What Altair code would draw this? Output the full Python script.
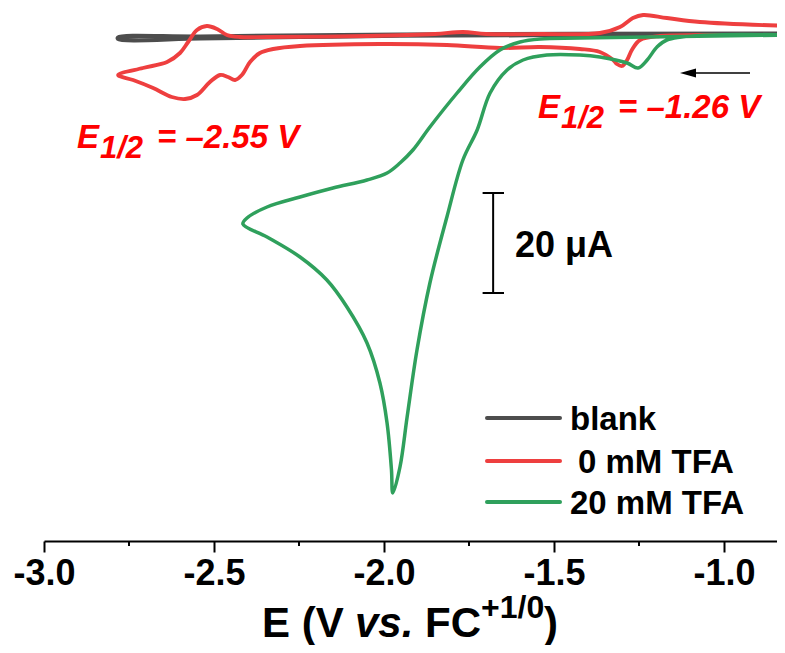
import altair as alt
import pandas as pd

# ---------------- data ----------------
series_names = ["blank", "0 mM TFA", "20 mM TFA"]
series_colors = ["#4D4D4D", "#EE3F3F", "#2FA05C"]

blank_E = [-0.80, -1.365, -1.953, -2.247, -2.541, -2.782, -2.782, -2.541, -1.953, -0.80]
blank_I = [0.7, 0.6, 0.45, 0.2, -0.1, -0.2, 0.1, 0.3, 0.7, 0.9]

red_E = [-0.80, -1.071, -1.188, -1.247, -1.271, -1.285, -1.300, -1.315, -1.326, -1.365,
         -1.424, -1.541, -1.659, -1.815, -2.012, -2.247, -2.326, -2.365, -2.394, -2.418,
         -2.438, -2.459, -2.482, -2.512, -2.550, -2.585, -2.624, -2.679, -2.738, -2.782,
         -2.709, -2.638, -2.600, -2.576, -2.550, -2.521, -2.491, -2.462, -2.424, -2.344,
         -2.050, -1.850, -1.768, -1.700, -1.541, -1.365, -1.306, -1.268, -1.238, -1.168,
         -1.071, -0.80]
red_I = [0.6, 0.6, 0.4, -0.4, -2.4, -4.4, -5.6, -5.2, -4.4, -2.8,
         -2.2, -1.8, -2.0, -1.4, -1.2, -1.6, -2.2, -3.0, -4.8, -7.4,
         -8.4, -7.8, -7.4, -8.8, -11.4, -12.2, -11.8, -10.0, -8.4, -7.4,
         -6.0, -4.8, -3.0, -0.8, 1.6, 2.4, 1.8, 0.6, 0.2, 0.2,
         0.4, 0.8, 1.2, 0.8, 0.8, 1.0, 2.2, 4.0, 4.6, 4.0,
         3.2, 2.4]

green_E = [-0.80, -1.071, -1.168, -1.197, -1.226, -1.253, -1.285, -1.365, -1.424, -1.521,
           -1.591, -1.638, -1.688, -1.726, -1.768, -1.815, -1.865, -1.903, -1.932, -1.953,
           -1.974, -1.978, -1.991, -2.012, -2.050, -2.109, -2.168, -2.247, -2.344, -2.415,
           -2.403, -2.344, -2.247, -2.150, -2.050, -1.991, -1.953, -1.915, -1.865, -1.785,
           -1.718, -1.659, -1.600, -1.541, -1.424, -0.80]
green_I = [0.6, 0.5, -0.4, -1.8, -4.4, -6.0, -5.0, -3.8, -3.4, -3.4,
           -4.4, -6.4, -11.0, -18.4, -24.4, -35.8, -49.0, -62.4, -75.8, -85.8,
           -91.0, -86.4, -77.0, -69.0, -61.0, -53.8, -48.4, -43.8, -39.8, -37.2,
           -36.0, -33.8, -31.8, -30.0, -28.4, -27.0, -25.0, -22.4, -17.8, -11.0,
           -5.8, -2.4, -0.8, -0.2, 0.0, 0.6]

major_ticks = [-3.0, -2.5, -2.0, -1.5, -1.0]
minor_ticks = [-2.75, -2.25, -1.75, -1.25]

scale_bar_E = -1.679
scale_bar_I = [-31.0, -51.0]   # 20 uA

# ---------------- layout ----------------
PX0, PY0 = 44, 10          # page position of the plot area's top-left corner
W, H = 733, 531
X_DOMAIN = [-3.0, -3.0 + W / 340.0]
Y_DOMAIN = [-100.6, 5.6]
FONT = "Liberation Sans"

frames = []
for name, E, I in [(series_names[0], blank_E, blank_I),
                   (series_names[1], red_E, red_I),
                   (series_names[2], green_E, green_I)]:
    frames.append(pd.DataFrame({"E": E, "I": I, "series": name, "idx": range(len(E))}))
curves = pd.concat(frames, ignore_index=True)

xs = alt.Scale(domain=X_DOMAIN, nice=False, zero=False)
ys = alt.Scale(domain=Y_DOMAIN, nice=False, zero=False)

x_axis = alt.Axis(
    values=major_ticks, title=None, grid=False,
    domainColor="black", domainWidth=2, tickColor="black", tickWidth=2, tickSize=11,
    labelFont=FONT, labelFontSize=36, labelFontWeight="bold", labelColor="black",
    labelPadding=4, labelFlush=False,
    labelExpr="(datum.value < 0 ? '-' : '') + format(abs(datum.value), '.1f')")

lines = alt.Chart(curves).mark_line(
    clip=True, interpolate="catmull-rom", strokeCap="round", strokeJoin="round"
).encode(
    x=alt.X("E:Q", scale=xs, axis=x_axis),
    y=alt.Y("I:Q", scale=ys, axis=None),
    color=alt.Color("series:N", scale=alt.Scale(domain=series_names, range=series_colors), legend=None),
    strokeWidth=alt.StrokeWidth("series:N", scale=alt.Scale(domain=series_names, range=[4.2, 3.5, 3.5]),
                                legend=None),
    detail="series:N",
    order="idx:Q",
)

minor = alt.Chart(pd.DataFrame({"E": minor_ticks})).mark_rule(color="black", strokeWidth=2).encode(
    x=alt.X("E:Q", scale=xs, axis=x_axis), y=alt.value(H), y2=alt.value(H + 5))

# scale bar (20 uA) in data coordinates
sb_v = alt.Chart(pd.DataFrame({"E": [scale_bar_E], "I1": [scale_bar_I[0]], "I2": [scale_bar_I[1]]})).mark_rule(
    color="black", strokeWidth=2).encode(
    x=alt.X("E:Q", scale=xs, axis=x_axis), y=alt.Y("I1:Q", scale=ys, axis=None), y2="I2:Q")
sb_caps = alt.Chart(pd.DataFrame({"E": [scale_bar_E - 0.031] * 2, "E2": [scale_bar_E + 0.032] * 2,
                                  "I": scale_bar_I})).mark_rule(color="black", strokeWidth=2).encode(
    x=alt.X("E:Q", scale=xs, axis=x_axis), x2="E2:Q", y=alt.Y("I:Q", scale=ys, axis=None))


def txt(s, x, y, size, color="black", style="normal", align="left"):
    return alt.Chart(pd.DataFrame({"t": [s]})).mark_text(
        font=FONT, fontSize=size, fontWeight="bold", fontStyle=style, color=color,
        align=align, baseline="alphabetic").encode(
        text="t:N", x=alt.value(x - PX0), y=alt.value(y - PY0))


RED = "#FF0000"
texts = [
    txt("20 \u03bcA", 515, 257, 36),
    txt("E", 77, 148, 33, RED, "italic"),
    txt("1/2", 100, 158, 31, RED, "italic"),
    txt("= \u20132.55 V", 157, 148, 33, RED, "italic"),
    txt("E", 538, 118, 33, RED, "italic"),
    txt("1/2", 561, 128, 31, RED, "italic"),
    txt("= \u20131.26 V", 618, 118, 33, RED, "italic"),
    # axis title pieces
    txt("E (V", 262, 637, 42),
    txt("vs.", 355, 637, 42, style="italic"),
    txt("FC", 425, 637, 42),
    txt("+1/0", 481, 618, 32),
    txt(")", 544, 637, 42),
]

# legend
leg_y = [418, 461, 502]
leg_x = [570, 578, 570]
legend_layers = []
for i in range(3):
    legend_layers.append(
        alt.Chart(pd.DataFrame({"s": [series_names[i]]})).mark_rule(
            color=series_colors[i], strokeWidth=4, strokeCap="round").encode(
            x=alt.value(487 - PX0), x2=alt.value(560 - PX0), y=alt.value(leg_y[i] - PY0)))
    legend_layers.append(txt(series_names[i], leg_x[i], leg_y[i] + 12, 33))

# arrow
arrow_line = alt.Chart(pd.DataFrame({"a": [0]})).mark_rule(color="black", strokeWidth=1.5).encode(
    x=alt.value(688 - PX0), x2=alt.value(750 - PX0), y=alt.value(73 - PY0))
arrow_head = alt.Chart(pd.DataFrame({"a": [0]})).mark_point(
    shape="M-1,0L1,-0.55L1,0.55Z", filled=True, color="black", opacity=1, size=256, strokeWidth=0).encode(
    x=alt.value(688 - PX0), y=alt.value(73 - PY0))

chart = alt.layer(lines, minor, sb_v, sb_caps, arrow_line, arrow_head, *legend_layers, *texts).properties(
    width=W, height=H,
    background="white",
    autosize=alt.AutoSizeParams(type="none"),
    padding={"left": PX0 - 8, "top": PY0 - 8, "right": 0, "bottom": 645 - 8 - (PY0 - 8) - H},
).configure_view(strokeWidth=0)

chart.save("out.html", embed_options={"renderer": "svg", "actions": False})
